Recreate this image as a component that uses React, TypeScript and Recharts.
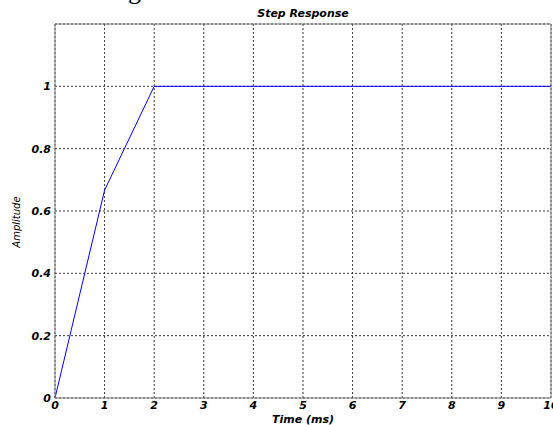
import React from 'react';
import { LineChart, Line, XAxis, YAxis, CartesianGrid, ReferenceLine } from 'recharts';

const timeMs = [0, 1, 2, 3, 4, 5, 6, 7, 8, 9, 10];
const amplitude = [0, 0.667, 1, 1, 1, 1, 1, 1, 1, 1, 1];
const xTicks = [0, 1, 2, 3, 4, 5, 6, 7, 8, 9, 10];
const yTicks = [0, 0.2, 0.4, 0.6, 0.8, 1];

const data = timeMs.map((t, i) => ({ t, a: amplitude[i] }));

const FONT = '"DejaVu Sans", Arial, sans-serif';
const tickStyle = { fontSize: 11, fontFamily: FONT, fontStyle: 'italic', fontWeight: 'bold', fill: '#000' };

const AmpLabel = () => (
  <text x={17} y={222} transform="rotate(-90 17 222)" textAnchor="middle" dominantBaseline="middle"
    style={{ fontSize: 10, fontFamily: FONT, fontStyle: 'italic', fill: '#000' }}>
    Amplitude
  </text>
);

export default function App() {
  return (
    <div style={{ position: 'absolute', left: 0, top: 0, width: 553, height: 425, overflow: 'hidden', background: '#fff' }}>
      <svg width={553} height={30} style={{ position: 'absolute', left: 0, top: 0 }}>
        <text x={128} y={-1} style={{ fontSize: 26, fontFamily: '"Liberation Serif", serif', fill: '#000' }}>g</text>
        <text x={303} y={17} textAnchor="middle" style={{ fontSize: 11, fontFamily: FONT, fontStyle: 'italic', fontWeight: 'bold', fill: '#000' }}>
          Step Response
        </text>
      </svg>
      <LineChart width={553} height={425} data={data} margin={{ top: 24, right: 2, left: 0, bottom: 0 }}
        style={{ position: 'absolute', left: 0, top: 0 }}>
        <CartesianGrid stroke="#000" strokeDasharray="2 2" strokeWidth={0.8} />
        <XAxis dataKey="t" type="number" domain={[0, 10]} ticks={xTicks} height={27}
          axisLine={{ stroke: '#7f7f7f' }} tickLine={false} tickSize={0} tickMargin={3} tick={tickStyle}
          interval={0}
          label={{ value: 'Time (ms)', position: 'insideBottom', offset: 2, style: { ...tickStyle, textAnchor: 'middle' } }} />
        <YAxis type="number" domain={[0, 1.2]} ticks={yTicks} width={55}
          axisLine={{ stroke: '#7f7f7f' }} tickLine={false} tickSize={0} tickMargin={4} tick={tickStyle}
          interval={0} label={{ content: () => <AmpLabel /> }} />
        <ReferenceLine y={1.2} stroke="#7f7f7f" />
        <ReferenceLine x={10} stroke="#7f7f7f" />
        <Line dataKey="a" type="linear" stroke="#0000ff" strokeWidth={1} dot={false} isAnimationActive={false} />
      </LineChart>
    </div>
  );
}
